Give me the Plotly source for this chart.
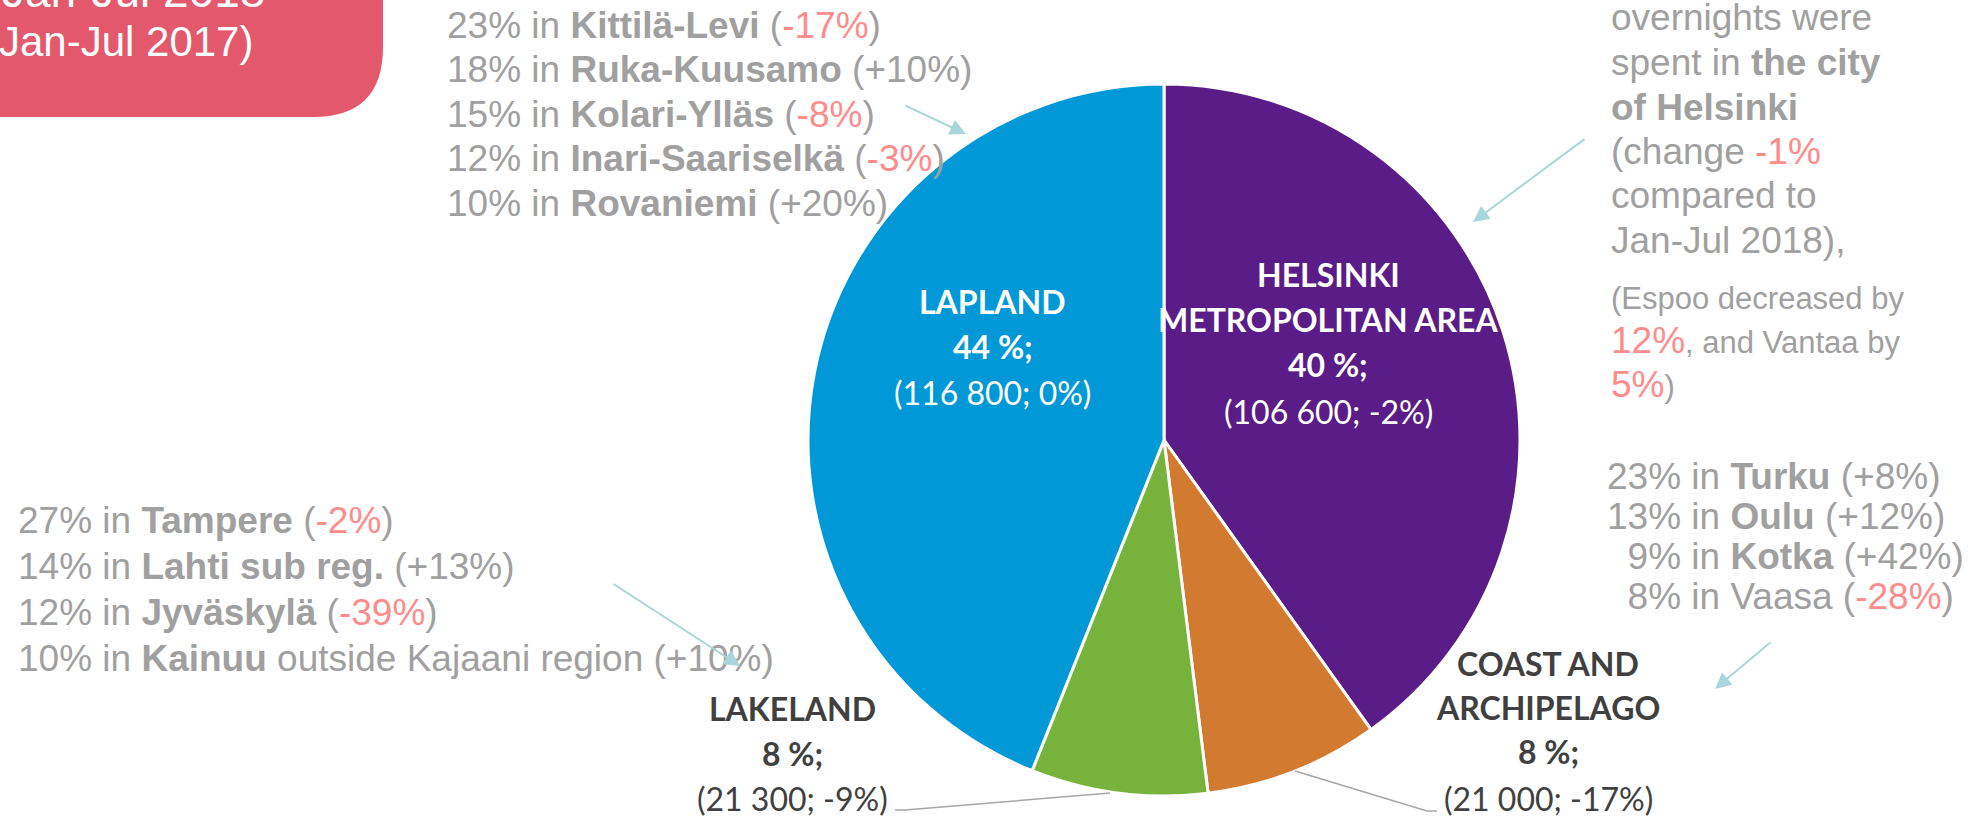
import plotly.graph_objects as go

# ---------------- data ----------------
regions = ["HELSINKI<br>METROPOLITAN AREA", "COAST AND<br>ARCHIPELAGO", "LAKELAND", "LAPLAND"]
overnights = [106600, 21000, 21300, 116800]
change_pct = [-2, -17, -9, 0]
slice_colors = ["#5A1C86", "#D27A2F", "#77B33C", "#0098D6"]

lapland_places = ["Kittilä-Levi", "Ruka-Kuusamo", "Kolari-Ylläs", "Inari-Saariselkä", "Rovaniemi"]
lapland_share = [23, 18, 15, 12, 10]
lapland_change = [-17, 10, -8, -3, 20]

lakeland_places = ["Tampere", "Lahti sub reg.", "Jyväskylä", "Kainuu"]
lakeland_suffix = ["", "", "", " outside Kajaani region"]
lakeland_share = [27, 14, 12, 10]
lakeland_change = [-2, 13, -39, 10]

coast_places = ["Turku", "Oulu", "Kotka", "Vaasa"]
coast_bold = [True, True, True, False]
coast_share = [23, 13, 9, 8]
coast_change = [8, 12, 42, -28]

helsinki_city_change = -1
espoo_change = -12
vantaa_change = -5

# ---------------- helpers ----------------
W, H = 1970, 817
GREY = "#A0A0A0"
RED = "#FF8C8C"
ARIAL = "Liberation Sans, Arial, sans-serif"
LABEL_FONT = "Lato, Carlito, Calibri, sans-serif"


def px(x):
    return x / W


def py(y):
    return 1 - y / H


fig = go.Figure()

cx, cy, r = 1164, 440, 356
fig.add_trace(go.Pie(
    labels=regions,
    values=overnights,
    sort=False,
    direction="clockwise",
    rotation=0,
    textinfo="none",
    hoverinfo="label+value",
    marker=dict(colors=slice_colors, line=dict(color="white", width=3)),
    domain=dict(x=[px(cx - r), px(cx + r)], y=[py(cy + r), py(cy - r)]),
    showlegend=False,
))


def add_text(x, baseline, text, size, color=GREY, anchor="left", family=ARIAL):
    fig.add_annotation(
        x=px(x), y=py(baseline - 0.35 * size), xref="paper", yref="paper",
        text=text, showarrow=False, xanchor=anchor, yanchor="middle",
        align=anchor, font=dict(size=size, color=color, family=family),
        borderpad=0, borderwidth=0,
    )


def chg(v):
    s = f"{v:+d}%"
    if v < 0:
        return f"(<span style='color:{RED}'>{s}</span>)"
    return f"({s})"


def red(s):
    return f"<span style='color:{RED}'>{s}</span>"


def arrow(tail, tip):
    fig.add_annotation(
        x=px(tip[0]), y=py(tip[1]), xref="paper", yref="paper",
        ax=tail[0] - tip[0], ay=tail[1] - tip[1], axref="pixel", ayref="pixel",
        text="", showarrow=True, arrowhead=2, arrowsize=1.6, arrowwidth=2,
        arrowcolor="#A9D6DB",
    )


# ---------------- red box top-left ----------------
fig.add_shape(type="path", xref="paper", yref="paper",
              path=f"M {px(-20)} {py(-20)} L {px(383)} {py(-20)} L {px(383)} {py(47)} "
                   f"Q {px(383)} {py(117)} {px(313)} {py(117)} L {px(-20)} {py(117)} Z",
              fillcolor="#E3586C", line=dict(width=0), layer="below")
add_text(2, 7, "Jan-Jul 2018", 46, "white")
add_text(-15, 56, "(Jan-Jul 2017)", 42, "white")

# ---------------- pie labels ----------------
total = sum(overnights)
pct = [round(v / total * 100) for v in overnights]


def fmt_n(v):
    return f"{v:,}".replace(",", " ")


label_pos = {
    0: (1328, [286, 331, 376, 423], "white"),
    1: (1548, [675, 719, 763, 810], "#404040"),
    2: (792, [720, 765, 810], "#404040"),
    3: (993, [313, 358, 404], "white"),
}
for i, (xc, bases, col) in label_pos.items():
    name_lines = regions[i].split("<br>")
    for j, ln in enumerate(name_lines):
        add_text(xc, bases[j], f"<b>{ln}</b>", 32, col, "center", LABEL_FONT)
    add_text(xc, bases[len(name_lines)], f"<b>{pct[i]} %;</b>", 32, col, "center", LABEL_FONT)
    add_text(xc, bases[len(name_lines) + 1], f"({fmt_n(overnights[i])}; {change_pct[i]}%)",
             32, col, "center", LABEL_FONT)

# leader lines
fig.add_shape(type="path", xref="paper", yref="paper",
              path=f"M {px(1110)} {py(793)} L {px(905)} {py(810)} L {px(895)} {py(810)}",
              line=dict(color="#A6A6A6", width=1.5))
fig.add_shape(type="path", xref="paper", yref="paper",
              path=f"M {px(1295)} {py(771)} L {px(1427)} {py(811)} L {px(1437)} {py(811)}",
              line=dict(color="#A6A6A6", width=1.5))

# ---------------- Lapland block ----------------
for k, (pl, sh, ch) in enumerate(zip(lapland_places, lapland_share, lapland_change)):
    add_text(447, 38 + 44.5 * k, f"{sh}% in <b>{pl}</b> {chg(ch)}", 37)
arrow((904, 105), (966, 134))

# ---------------- Helsinki block ----------------
hx = 1611
hel_lines = [
    (30, "overnights were", 37),
    (75, "spent in <b>the city</b>", 37),
    (120, "<b>of Helsinki</b>", 37),
    (164, f"(change {red(f'{helsinki_city_change}%')}", 37),
    (208, "compared to", 37),
    (253, "Jan-Jul 2018),", 37),
    (309, "(Espoo decreased by", 31),
    (351, f"<span style='font-size:37px'>{red(f'{-espoo_change}%')}</span>, and Vantaa by", 31),
    (395, f"<span style='font-size:37px'>{red(f'{-vantaa_change}%')}</span>)", 31),
]
for b, t, s in hel_lines:
    add_text(hx, b, t, s)
arrow((1586, 138), (1473, 222))

# ---------------- Lakeland block ----------------
for k, (pl, suf, sh, ch) in enumerate(zip(lakeland_places, lakeland_suffix, lakeland_share, lakeland_change)):
    add_text(18, 533 + 46 * k, f"{sh}% in <b>{pl}</b>{suf} {chg(ch)}", 37)
arrow((612, 583), (740, 666))

# ---------------- Coast block ----------------
for k, (pl, b, sh, ch) in enumerate(zip(coast_places, coast_bold, coast_share, coast_change)):
    pad = "\u2007" if sh < 10 else ""
    name = f"<b>{pl}</b>" if b else pl
    add_text(1607, 489 + 40 * k, f"{pad}{sh}% in {name} {chg(ch)}", 37)
arrow((1772, 641), (1715, 689))

fig.update_layout(
    width=W, height=H,
    margin=dict(l=0, r=0, t=0, b=0),
    paper_bgcolor="white", plot_bgcolor="white",
    showlegend=False,
)

fig.write_html("out.html", config={"displayModeBar": False},
               post_script="document.body.style.margin='0';")
